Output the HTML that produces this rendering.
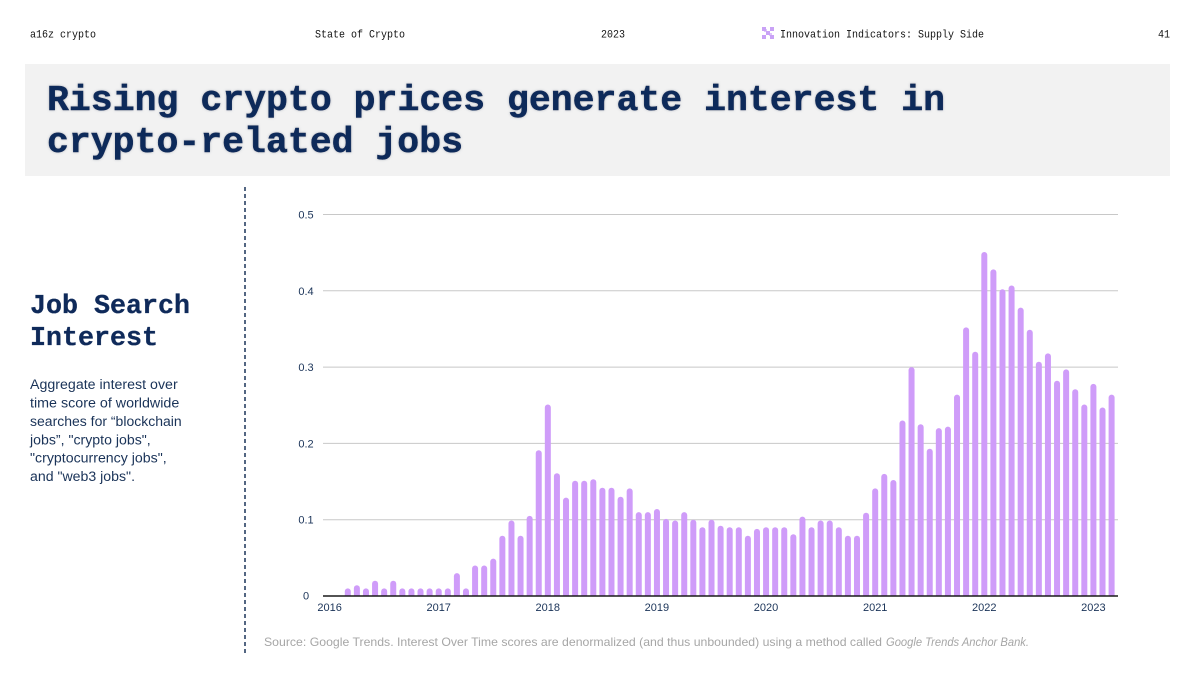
<!DOCTYPE html>
<html>
<head>
<meta charset="utf-8">
<style>
html,body{margin:0;padding:0;background:#fff;}
svg{display:block;}
</style>
</head>
<body>
<svg width="1200" height="675" viewBox="0 0 1200 675" xmlns="http://www.w3.org/2000/svg">
<defs>
<clipPath id="plot"><rect x="300" y="150" width="850" height="446"/></clipPath>
<filter id="glow" x="-5%" y="-20%" width="110%" height="140%">
<feGaussianBlur in="SourceAlpha" stdDeviation="1.2" result="b"/>
<feFlood flood-color="#7d8796" flood-opacity="0.55"/>
<feComposite in2="b" operator="in" result="s"/>
<feMerge><feMergeNode in="s"/><feMergeNode in="SourceGraphic"/></feMerge>
</filter>
</defs>
<rect width="1200" height="675" fill="#fff"/>

<!-- header -->
<g font-family="'Liberation Mono', monospace" font-size="11" fill="#111">
<text x="30" y="37.5" textLength="66" lengthAdjust="spacingAndGlyphs">a16z crypto</text>
<text x="315" y="37.5" textLength="90" lengthAdjust="spacingAndGlyphs">State of Crypto</text>
<text x="601" y="37.5" textLength="24" lengthAdjust="spacingAndGlyphs">2023</text>
<text x="780" y="37.5" textLength="204" lengthAdjust="spacingAndGlyphs">Innovation Indicators: Supply Side</text>
<text x="1158" y="37.5" textLength="12" lengthAdjust="spacingAndGlyphs">41</text>
</g>
<g fill="#c9a2f6">
<rect x="762" y="27" width="4" height="4"/><rect x="770" y="27" width="4" height="4"/>
<rect x="766" y="31" width="4" height="4"/>
<rect x="762" y="35" width="4" height="4"/><rect x="770" y="35" width="4" height="4"/>
<rect x="764" y="29" width="3" height="3" opacity="0.6"/><rect x="769" y="33" width="3" height="3" opacity="0.6"/>
</g>

<!-- title box -->
<rect x="25" y="64" width="1145" height="112" fill="#f2f2f2"/>
<g font-family="'Liberation Mono', monospace" font-weight="bold" font-size="36.5" fill="#0f2a5a" stroke="#0f2a5a" stroke-width="0.5" filter="url(#glow)">
<text x="47" y="110" textLength="898" lengthAdjust="spacing">Rising crypto prices generate interest in</text>
<text x="47" y="152" textLength="416" lengthAdjust="spacing">crypto-related jobs</text>
</g>

<!-- left panel -->
<g font-family="'Liberation Mono', monospace" font-weight="bold" font-size="26.7" fill="#0f2a5a" stroke="#0f2a5a" stroke-width="0.3">
<text x="30" y="313" textLength="160">Job Search</text>
<text x="30" y="345" textLength="128">Interest</text>
</g>
<g font-family="'Liberation Sans', sans-serif" font-size="13.5" fill="#1a3358">
<text x="30" y="389" textLength="147.7" lengthAdjust="spacingAndGlyphs">Aggregate interest over</text>
<text x="30" y="407.5" textLength="149.3" lengthAdjust="spacingAndGlyphs">time score of worldwide</text>
<text x="30" y="426" textLength="151.7" lengthAdjust="spacingAndGlyphs">searches for “blockchain</text>
<text x="30" y="444.3" textLength="120.7" lengthAdjust="spacingAndGlyphs">jobs”, "crypto jobs",</text>
<text x="30" y="462.6" textLength="136.7" lengthAdjust="spacingAndGlyphs">"cryptocurrency jobs",</text>
<text x="30" y="481" textLength="105" lengthAdjust="spacingAndGlyphs">and "web3 jobs".</text>
</g>

<!-- dashed divider -->
<line x1="245" y1="187" x2="245" y2="656" stroke="#1a3358" stroke-width="1.5" stroke-dasharray="4 3"/>

<!-- gridlines -->
<g stroke="#c8c8c8" stroke-width="1">
<line x1="323" y1="214.5" x2="1118" y2="214.5"/>
<line x1="323" y1="290.8" x2="1118" y2="290.8"/>
<line x1="323" y1="367.1" x2="1118" y2="367.1"/>
<line x1="323" y1="443.4" x2="1118" y2="443.4"/>
<line x1="323" y1="519.7" x2="1118" y2="519.7"/>
</g>

<!-- y labels -->
<g font-family="'Liberation Sans', sans-serif" font-size="11" fill="#1a3358" text-anchor="middle">
<text x="306" y="218.5">0.5</text>
<text x="306" y="294.8">0.4</text>
<text x="306" y="371.1">0.3</text>
<text x="306" y="447.4">0.2</text>
<text x="306" y="523.7">0.1</text>
<text x="306" y="599.5">0</text>
</g>

<!-- bars -->
<g fill="#cf9cf9" clip-path="url(#plot)">
<rect x="344.79" y="588.4" width="6" height="12" rx="3"/>
<rect x="353.88" y="585.3" width="6" height="15" rx="3"/>
<rect x="362.97" y="588.4" width="6" height="12" rx="3"/>
<rect x="372.07" y="580.7" width="6" height="20" rx="3"/>
<rect x="381.16" y="588.4" width="6" height="12" rx="3"/>
<rect x="390.25" y="580.7" width="6" height="20" rx="3"/>
<rect x="399.34" y="588.4" width="6" height="12" rx="3"/>
<rect x="408.44" y="588.4" width="6" height="12" rx="3"/>
<rect x="417.53" y="588.4" width="6" height="12" rx="3"/>
<rect x="426.62" y="588.4" width="6" height="12" rx="3"/>
<rect x="435.72" y="588.4" width="6" height="12" rx="3"/>
<rect x="444.81" y="588.4" width="6" height="12" rx="3"/>
<rect x="453.90" y="573.1" width="6" height="27" rx="3"/>
<rect x="462.99" y="588.4" width="6" height="12" rx="3"/>
<rect x="472.08" y="565.5" width="6" height="35" rx="3"/>
<rect x="481.18" y="565.5" width="6" height="35" rx="3"/>
<rect x="490.27" y="558.6" width="6" height="42" rx="3"/>
<rect x="499.36" y="535.7" width="6" height="65" rx="3"/>
<rect x="508.46" y="520.5" width="6" height="80" rx="3"/>
<rect x="517.55" y="535.7" width="6" height="65" rx="3"/>
<rect x="526.65" y="515.9" width="6" height="85" rx="3"/>
<rect x="535.74" y="450.3" width="6" height="150" rx="3"/>
<rect x="544.83" y="404.5" width="6" height="196" rx="3"/>
<rect x="553.93" y="473.2" width="6" height="127" rx="3"/>
<rect x="563.02" y="497.6" width="6" height="103" rx="3"/>
<rect x="572.11" y="480.8" width="6" height="120" rx="3"/>
<rect x="581.20" y="480.8" width="6" height="120" rx="3"/>
<rect x="590.30" y="479.3" width="6" height="121" rx="3"/>
<rect x="599.39" y="487.7" width="6" height="113" rx="3"/>
<rect x="608.48" y="487.7" width="6" height="113" rx="3"/>
<rect x="617.58" y="496.8" width="6" height="104" rx="3"/>
<rect x="626.67" y="488.4" width="6" height="112" rx="3"/>
<rect x="635.76" y="512.1" width="6" height="88" rx="3"/>
<rect x="644.86" y="512.1" width="6" height="88" rx="3"/>
<rect x="653.95" y="509.0" width="6" height="91" rx="3"/>
<rect x="663.04" y="518.9" width="6" height="82" rx="3"/>
<rect x="672.13" y="520.5" width="6" height="80" rx="3"/>
<rect x="681.23" y="512.1" width="6" height="88" rx="3"/>
<rect x="690.32" y="519.7" width="6" height="81" rx="3"/>
<rect x="699.41" y="527.3" width="6" height="73" rx="3"/>
<rect x="708.51" y="519.7" width="6" height="81" rx="3"/>
<rect x="717.60" y="525.8" width="6" height="75" rx="3"/>
<rect x="726.69" y="527.3" width="6" height="73" rx="3"/>
<rect x="735.79" y="527.3" width="6" height="73" rx="3"/>
<rect x="744.88" y="535.7" width="6" height="65" rx="3"/>
<rect x="753.97" y="528.9" width="6" height="72" rx="3"/>
<rect x="763.06" y="527.3" width="6" height="73" rx="3"/>
<rect x="772.16" y="527.3" width="6" height="73" rx="3"/>
<rect x="781.25" y="527.3" width="6" height="73" rx="3"/>
<rect x="790.34" y="534.2" width="6" height="66" rx="3"/>
<rect x="799.44" y="516.6" width="6" height="84" rx="3"/>
<rect x="808.53" y="527.3" width="6" height="73" rx="3"/>
<rect x="817.62" y="520.5" width="6" height="80" rx="3"/>
<rect x="826.72" y="520.5" width="6" height="80" rx="3"/>
<rect x="835.81" y="527.3" width="6" height="73" rx="3"/>
<rect x="844.90" y="535.7" width="6" height="65" rx="3"/>
<rect x="853.99" y="535.7" width="6" height="65" rx="3"/>
<rect x="863.09" y="512.8" width="6" height="88" rx="3"/>
<rect x="872.18" y="488.4" width="6" height="112" rx="3"/>
<rect x="881.27" y="473.9" width="6" height="127" rx="3"/>
<rect x="890.37" y="480.0" width="6" height="120" rx="3"/>
<rect x="899.46" y="420.5" width="6" height="180" rx="3"/>
<rect x="908.55" y="367.1" width="6" height="233" rx="3"/>
<rect x="917.65" y="424.3" width="6" height="176" rx="3"/>
<rect x="926.74" y="448.7" width="6" height="152" rx="3"/>
<rect x="935.83" y="428.1" width="6" height="172" rx="3"/>
<rect x="944.92" y="426.6" width="6" height="174" rx="3"/>
<rect x="954.02" y="394.6" width="6" height="206" rx="3"/>
<rect x="963.11" y="327.4" width="6" height="273" rx="3"/>
<rect x="972.20" y="351.8" width="6" height="249" rx="3"/>
<rect x="981.30" y="252.0" width="6" height="348" rx="3"/>
<rect x="990.39" y="269.4" width="6" height="331" rx="3"/>
<rect x="999.48" y="289.3" width="6" height="311" rx="3"/>
<rect x="1008.58" y="285.5" width="6" height="315" rx="3"/>
<rect x="1017.67" y="307.6" width="6" height="293" rx="3"/>
<rect x="1026.76" y="329.7" width="6" height="271" rx="3"/>
<rect x="1035.85" y="361.8" width="6" height="239" rx="3"/>
<rect x="1044.95" y="353.4" width="6" height="247" rx="3"/>
<rect x="1054.04" y="380.8" width="6" height="220" rx="3"/>
<rect x="1063.13" y="369.4" width="6" height="231" rx="3"/>
<rect x="1072.23" y="389.2" width="6" height="211" rx="3"/>
<rect x="1081.32" y="404.5" width="6" height="196" rx="3"/>
<rect x="1090.41" y="383.9" width="6" height="217" rx="3"/>
<rect x="1099.51" y="407.5" width="6" height="193" rx="3"/>
<rect x="1108.60" y="394.6" width="6" height="206" rx="3"/>
</g>

<!-- baseline -->
<line x1="323" y1="596" x2="1118" y2="596" stroke="#1a1a1a" stroke-width="1.5"/>

<!-- x labels -->
<g font-family="'Liberation Sans', sans-serif" font-size="11" fill="#1a3358" text-anchor="middle">
<text x="329.6" y="611">2016</text>
<text x="438.7" y="611">2017</text>
<text x="547.8" y="611">2018</text>
<text x="656.9" y="611">2019</text>
<text x="766" y="611">2020</text>
<text x="875.2" y="611">2021</text>
<text x="984.3" y="611">2022</text>
<text x="1093.4" y="611">2023</text>
</g>

<!-- source -->
<g font-family="'Liberation Sans', sans-serif" font-size="12" fill="#a6a6a6">
<text x="264" y="646" textLength="618" lengthAdjust="spacingAndGlyphs">Source: Google Trends. Interest Over Time scores are denormalized (and thus unbounded) using a method called</text>
<text x="886" y="646" font-style="italic" textLength="143" lengthAdjust="spacingAndGlyphs">Google Trends Anchor Bank.</text>
</g>
</svg>
</body>
</html>
